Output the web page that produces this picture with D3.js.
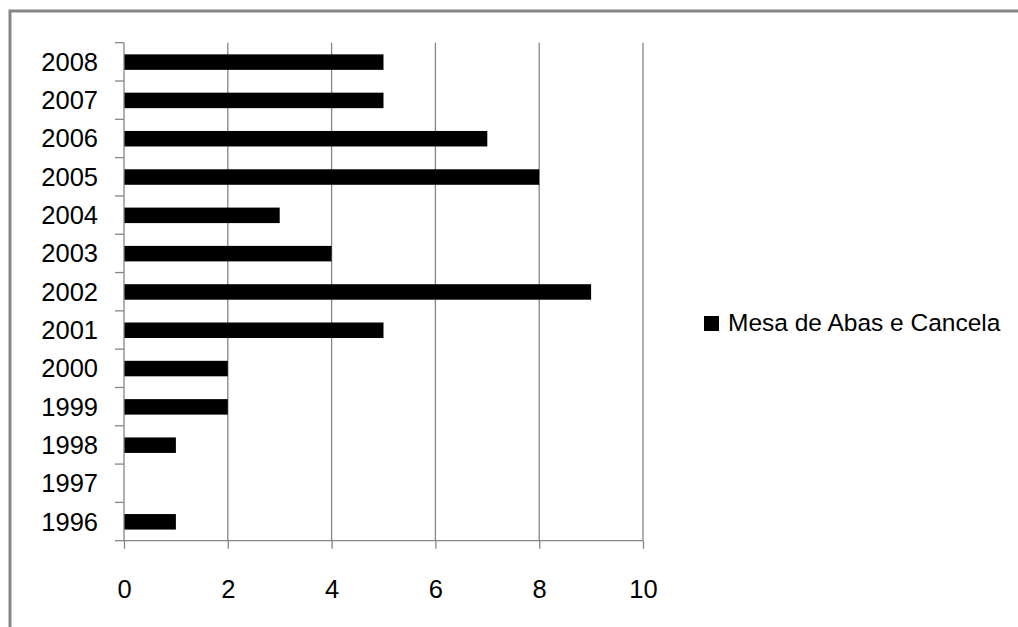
<!DOCTYPE html>
<html><head><meta charset="utf-8">
<script src="https://cdn.jsdelivr.net/npm/d3@7"></script>
<style>body{margin:0;background:#fff}svg{display:block}</style>
</head><body>
<svg id="c" width="1018" height="627"></svg>
<script>
const years = ["1996","1997","1998","1999","2000","2001","2002","2003","2004","2005","2006","2007","2008"];
const values = [1,0,1,2,2,5,9,4,3,8,7,5,5];
const xTicks = [0,2,4,6,8,10];
const seriesName = "Mesa de Abas e Cancela";

(function(){
const svg = d3.select("#c");
const font = "'Liberation Sans', Arial, sans-serif";
const gray = "#868686";

svg.append("rect").attr("x",10).attr("y",11).attr("width",1030).attr("height",640)
  .attr("fill","none").attr("stroke",gray).attr("stroke-width",3);

const pL=124, pR=643, pT=42.7, pB=540.7;
const x = d3.scaleLinear().domain([0,10]).range([pL,pR]);
const yb = d3.scaleBand().domain(years.slice().reverse()).range([pT,pB]);

// gridlines
svg.append("g").selectAll("line").data(xTicks.filter(d=>d>0)).join("line")
  .attr("x1",d=>x(d)).attr("x2",d=>x(d)).attr("y1",pT).attr("y2",pB)
  .attr("stroke",gray).attr("stroke-width",1.3);

// bars
svg.append("g").selectAll("rect").data(years.map((yr,i)=>({yr,v:values[i]}))).join("rect")
  .attr("x",x(0)).attr("y",d=>yb(d.yr)+yb.bandwidth()/2-7.5)
  .attr("width",d=>x(d.v)-x(0)).attr("height",15.5).attr("fill","#000");

// x axis
const xa = svg.append("g").attr("transform",`translate(0,${pB})`)
  .call(d3.axisBottom(x).tickValues(xTicks).tickSize(8).tickPadding(0).tickFormat(d3.format("d")));
xa.select(".domain").attr("stroke",gray).attr("stroke-width",1.3).attr("d",`M${pL},0H${pR}`);
xa.selectAll(".tick line").attr("stroke",gray).attr("stroke-width",1.3);
xa.selectAll(".tick text").attr("y",57).attr("dy",null).attr("font-family",font).attr("font-size",25.5).attr("fill","#000");

// y axis
const ya = svg.append("g").attr("transform",`translate(${pL},0)`);
ya.append("line").attr("x1",0).attr("x2",0).attr("y1",pT).attr("y2",pB).attr("stroke",gray).attr("stroke-width",1.3);
const bounds = years.map(yr=>yb(yr)).concat([pB]);
ya.selectAll("line.t").data(bounds).join("line").attr("class","t")
  .attr("x1",-9).attr("x2",0).attr("y1",d=>d).attr("y2",d=>d).attr("stroke",gray).attr("stroke-width",1.3);
ya.selectAll("text").data(years).join("text")
  .attr("x",-26).attr("y",d=>yb(d)+yb.bandwidth()/2+9)
  .attr("text-anchor","end").attr("font-family",font).attr("font-size",25.5).text(d=>d);

// legend
svg.append("rect").attr("x",704).attr("y",316).attr("width",15).attr("height",15).attr("fill","#000");
svg.append("text").attr("x",728).attr("y",331).attr("font-family",font).attr("font-size",24.5).text(seriesName);
})();
</script>
</body></html>
